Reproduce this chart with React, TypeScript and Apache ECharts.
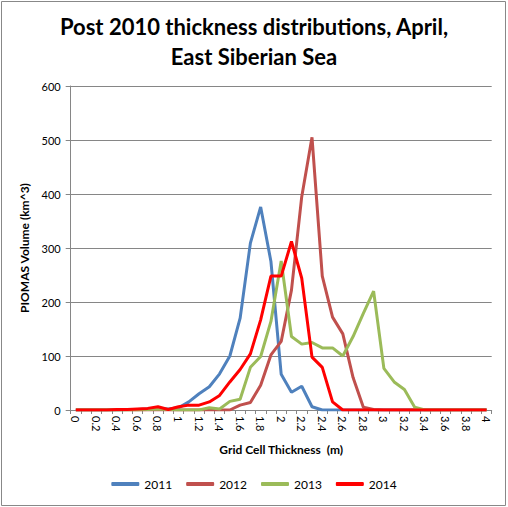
import React, { useEffect, useRef } from "react";
import * as echarts from "echarts";

const categories: string[] = [
  "0", "0.1", "0.2", "0.3", "0.4", "0.5", "0.6", "0.7", "0.8", "0.9",
  "1", "1.1", "1.2", "1.3", "1.4", "1.5", "1.6", "1.7", "1.8", "1.9",
  "2", "2.1", "2.2", "2.3", "2.4", "2.5", "2.6", "2.7", "2.8", "2.9",
  "3", "3.1", "3.2", "3.3", "3.4", "3.5", "3.6", "3.7", "3.8", "3.9", "4",
];

const s2011: number[] = [
  0, 0, 0, 0, 0, 1, 1, 2, 3, 2,
  4, 15, 30, 43, 67, 100, 170, 309, 376, 275,
  66, 33, 44, 6, 0, 0, 0, 0, 0, 0,
  0, 0, 0, 0, 0, 0, 0, 0, 0, 0, 0,
];
const s2012: number[] = [
  0, 0, 0, 0, 0, 0, 0, 0, 0, 0,
  0, 0, 0, 0, 0, 0, 9, 14, 46, 102,
  127, 222, 395, 505, 248, 172, 141, 60, 5, 1,
  0, 0, 0, 0, 0, 0, 0, 0, 0, 0, 0,
];
const s2013: number[] = [
  0, 0, 0, 0, 0, 0, 0, 1, 2, 1,
  0, 0, 0, 4, 2, 16, 20, 79, 99, 164,
  276, 136, 122, 125, 115, 115, 100, 136, 179, 220,
  77, 52, 38, 5, 0, 0, 0, 0, 0, 0, 0,
];
const s2014: number[] = [
  0, 0, 0, 0, 1, 1, 2, 3, 6, 1,
  6, 9, 9, 15, 27, 52, 75, 104, 167, 248,
  248, 312, 244, 98, 79, 15, 0, 0, 0, 0,
  0, 0, 0, 0, 0, 0, 0, 0, 0, 0, 0,
];

const seriesNames: string[] = ["2011", "2012", "2013", "2014"];
const seriesColors: string[] = ["#4F81BD", "#C0504D", "#9BBB59", "#FF0000"];
const yTicks = { min: 0, max: 600, interval: 100 };

const FONT = "Lato";

export default function App() {
  const ref = useRef<HTMLDivElement>(null);
  useEffect(() => {
    if (!ref.current) return;
    const chart = echarts.init(ref.current, null, { renderer: "svg" });
    const data = [s2011, s2012, s2013, s2014];
    chart.setOption({
      animation: false,
      backgroundColor: "#ffffff",
      textStyle: { fontFamily: FONT },
      title: {
        text: "Post 2010 thickness distributions, April,\nEast Siberian Sea",
        left: "center",
        top: 6,
        textStyle: {
          fontFamily: FONT,
          fontSize: 22,
          fontWeight: "bold",
          color: "#000",
          lineHeight: 30,
        },
      },
      graphic: [
        {
          type: "rect",
          shape: { x: 1.5, y: 1.5, width: 504, height: 504 },
          style: { fill: "none", stroke: "#888888", lineWidth: 1 },
          silent: true,
        },
      ],
      legend: {
        bottom: 12,
        left: "center",
        icon: "roundRect",
        itemWidth: 28,
        itemHeight: 4,
        itemGap: 14,
        textStyle: { fontFamily: FONT, fontSize: 12, color: "#000" },
        data: seriesNames,
      },
      grid: { left: 70.7, right: 16.3, top: 86, bottom: 97 },
      xAxis: {
        type: "category",
        data: categories,
        boundaryGap: true,
        name: "Grid Cell Thickness  (m)",
        nameLocation: "middle",
        nameGap: 33,
        nameTextStyle: { fontFamily: FONT, fontSize: 12, fontWeight: "bold", color: "#000" },
        axisLine: { lineStyle: { color: "#868686", width: 1 } },
        axisTick: { show: true, interval: 0, alignWithLabel: false, length: 4, lineStyle: { color: "#868686" } },
        axisLabel: {
          interval: 1,
          rotate: -90,
          fontFamily: FONT,
          fontSize: 11,
          color: "#000",
          margin: 6,
        },
        splitLine: { show: false },
      },
      yAxis: {
        type: "value",
        min: yTicks.min,
        max: yTicks.max,
        interval: yTicks.interval,
        name: "PIOMAS Volume (km^3)",
        nameLocation: "middle",
        nameRotate: 90,
        nameGap: 36,
        nameTextStyle: { fontFamily: FONT, fontSize: 12, fontWeight: "bold", color: "#000" },
        axisLine: { show: true, lineStyle: { color: "#868686", width: 1 } },
        axisTick: { show: true, length: 5, lineStyle: { color: "#868686" } },
        axisLabel: { fontFamily: FONT, fontSize: 11, color: "#000", margin: 10 },
        splitLine: { show: true, lineStyle: { color: "#868686", width: 1 } },
      },
      series: seriesNames.map((name, i) => ({
        name,
        type: "line",
        data: data[i],
        symbol: "none",
        smooth: false,
        color: seriesColors[i],
        lineStyle: { color: seriesColors[i], width: 3 },
        z: 2 + i,
      })),
    });
    return () => chart.dispose();
  }, []);
  return (
    <div
      ref={ref}
      style={{ position: "fixed", left: 0, top: 0, width: 508, height: 507 }}
    />
  );
}
